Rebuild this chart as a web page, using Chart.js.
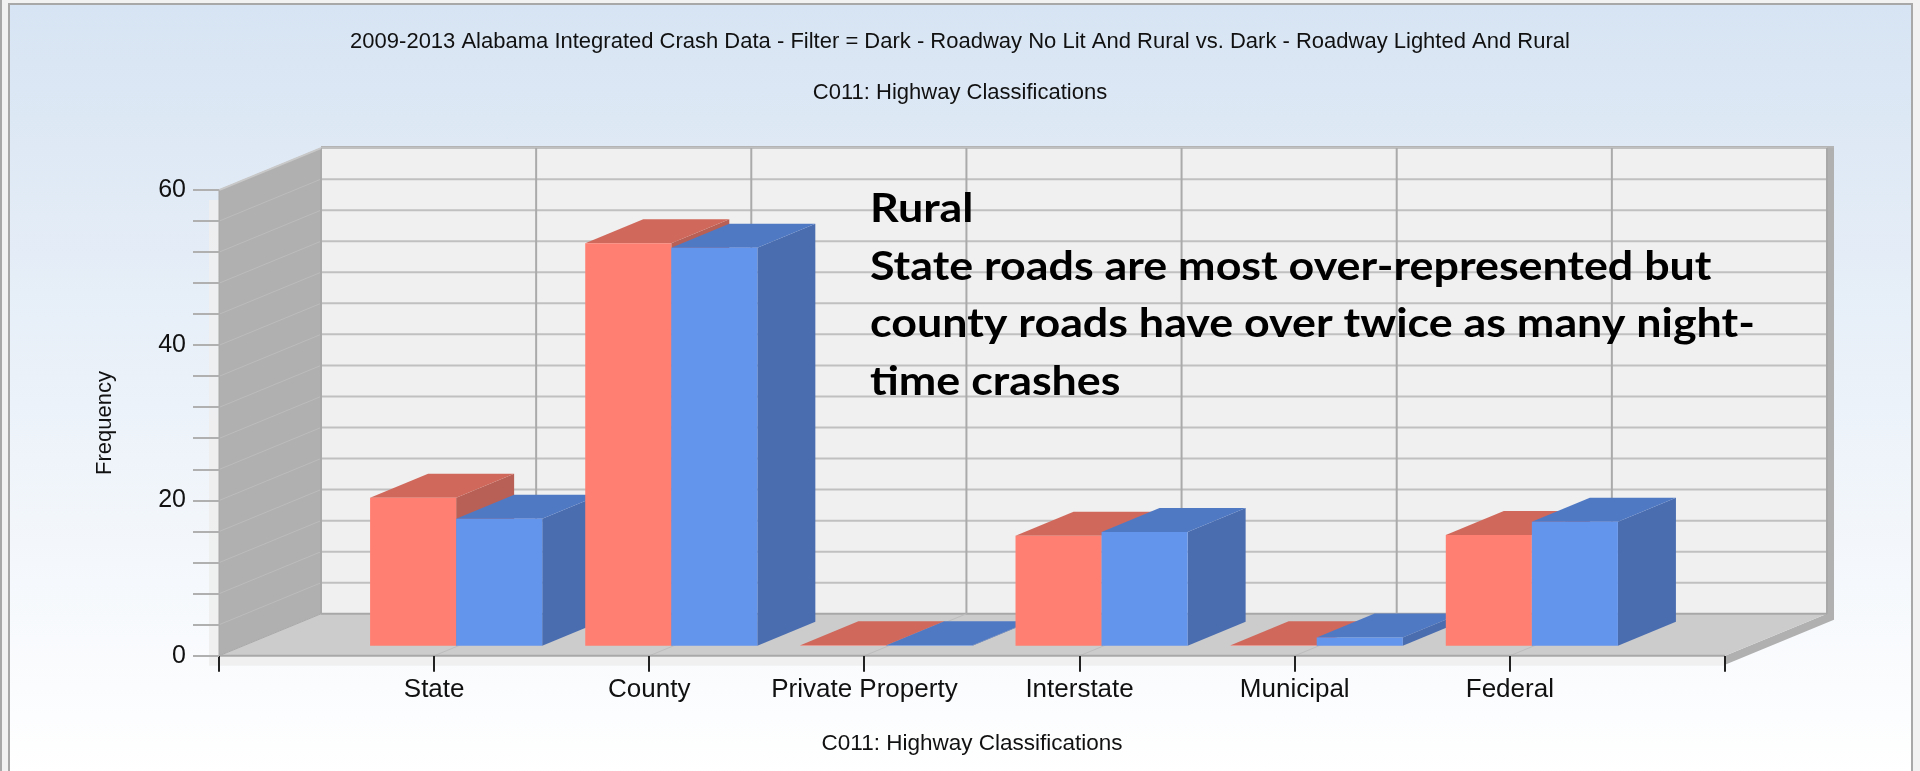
<!DOCTYPE html>
<html>
<head>
<meta charset="utf-8">
<script src="https://cdn.jsdelivr.net/npm/chart.js@4"></script>
<style>
  html, body { margin: 0; padding: 0; width: 1920px; height: 771px; overflow: hidden; }
  body { background: linear-gradient(to right, #a8a8a8 2px, #f2f2f2 2px); }
  #moldura {
    position: absolute; left: 8px; top: 3px; width: 1901px; height: 768px;
    border: 2px solid #a8a8a8; border-bottom: none;
    background: linear-gradient(#d7e4f3, #ffffff);
  }
  #grafico { position: absolute; left: 0; top: 0; }
</style>
</head>
<body>
<div id="moldura"></div>
<canvas id="grafico" width="1920" height="771"></canvas>
<script>
// categorias (as pontas ficam vazias, o eixo original tem um tick sem nome em cada lado)
const categorias = ["", "State", "County", "Private Property", "Interstate", "Municipal", "Federal", ""];
const semLuz = [null, 19.2, 52, 0.2, 14.3, 0.2, 14.4, null];
const comLuz = [null, 16.5, 51.4, 0.2, 14.8, 1.2, 16.1, null];
const rotulosY = [0, 20, 40, 60];

const titulo = [
  "2009-2013 Alabama Integrated Crash Data - Filter = Dark - Roadway No Lit And Rural vs. Dark - Roadway Lighted And Rural",
  "C011: Highway Classifications",
];
const tituloX = "C011: Highway Classifications";
const tituloY = "Frequency";
const nota = [
  "Rural",
  "State roads are most over-represented but",
  "county roads have over twice as many night-",
  "time crashes",
];

// deslocamentos da falsa perspectiva 3D
const FUNDO = { x: 102, y: -42 }; // plano frontal até a parede do fundo
const FRENTE = { x: 22, y: -9 }; // plano frontal até a face da barra
const PROF = { x: 58, y: -24 }; // profundidade da barra

function poligono(ctx, pontos, cor) {
  ctx.fillStyle = cor;
  ctx.beginPath();
  pontos.forEach((p, i) => (i ? ctx.lineTo(p[0], p[1]) : ctx.moveTo(p[0], p[1])));
  ctx.closePath();
  ctx.fill();
}

function linha(ctx, x1, y1, x2, y2, cor, largura) {
  ctx.strokeStyle = cor;
  ctx.lineWidth = largura;
  ctx.beginPath();
  ctx.moveTo(x1, y1);
  ctx.lineTo(x2, y2);
  ctx.stroke();
}

// Paredes, chão e grade, tudo a partir das escalas do gráfico
const paredes = {
  id: "paredes",
  // o título centraliza na tela inteira, não entre os paddings
  afterLayout(chart) {
    chart.titleBlock.left = 0;
    chart.titleBlock.right = chart.width;
  },
  beforeDraw(chart) {
    const { ctx, chartArea: a, scales } = chart;
    const esq = a.left, dir = a.right, topo = a.top, base = a.bottom;
    const fx = FUNDO.x, fy = FUNDO.y;
    ctx.save();

    // faixa clara em volta do plano frontal
    poligono(ctx, [[esq - 10, topo + 10], [esq, topo + 10], [esq, base + 10], [esq - 10, base + 10]], "rgba(238,238,238,0.9)");
    poligono(ctx, [[esq, base], [dir, base], [dir, base + 10], [esq, base + 10]], "rgba(238,238,238,0.9)");

    // espessura da parede direita e do chão
    poligono(ctx, [[dir + fx, topo + fy], [dir + fx + 7, topo + fy], [dir + fx + 7, base + fy + 6], [dir, base + 9], [dir, base], [dir + fx, base + fy]], "#b0b0b0");
    poligono(ctx, [[esq + fx, topo + fy - 2], [dir + fx + 7, topo + fy - 2], [dir + fx + 7, topo + fy], [esq + fx, topo + fy]], "#b4b4b4");

    // parede do fundo
    poligono(ctx, [[esq + fx, topo + fy], [dir + fx, topo + fy], [dir + fx, base + fy], [esq + fx, base + fy]], "#f0f0f0");
    // parede esquerda
    poligono(ctx, [[esq, topo], [esq + fx, topo + fy], [esq + fx, base + fy], [esq, base]], "#b0b0b0");
    // chão
    poligono(ctx, [[esq, base], [esq + fx, base + fy], [dir + fx, base + fy], [dir, base]], "#cccccc");

    // grade horizontal (a cada 4) no fundo e na parede esquerda
    scales.y.ticks.forEach((t, i) => {
      const y = scales.y.getPixelForTick(i);
      linha(ctx, esq + fx, y + fy, dir + fx, y + fy, t.value === 0 ? "#a8a8a8" : "#c0c0c0", 2);
      if (t.value !== 0) linha(ctx, esq, y, esq + fx, y + fy, "#bcbcbc", 1);
    });
    // grade vertical no fundo e riscos no chão
    scales.x.ticks.forEach((t, i) => {
      const x = scales.x.getPixelForTick(i);
      if (i < scales.x.ticks.length - 1) linha(ctx, x + fx, topo + fy, x + fx, base + fy, "#aaaaaa", 2);
      if (i > 0 && i < scales.x.ticks.length - 1) linha(ctx, x, base, x + fx, base + fy, "#bdbdbd", 1);
    });

    // bordas
    linha(ctx, dir + fx, topo + fy, dir + fx, base + fy, "#a8a8a8", 2);
    linha(ctx, esq, topo, esq + fx, topo + fy, "#c8c8c8", 2);
    linha(ctx, esq, base, esq + fx, base + fy, "#a8a8a8", 1);
    linha(ctx, esq, topo, esq, base, "#a8a8a8", 1);
    linha(ctx, esq, base, dir, base, "#a8a8a8", 2);
    ctx.restore();
  },
};

// Barras 3D: desenha por categoria, senão a lateral azul passa por cima da barra seguinte
const barras3d = {
  id: "barras3d",
  beforeDatasetsDraw(chart) {
    const ctx = chart.ctx;
    const cores = [
      { topo: "#d0695c", lado: "#b86055" },
      { topo: "#5079c4", lado: "#4a6db0" },
    ];
    ctx.save();
    ctx.translate(FRENTE.x, FRENTE.y);
    categorias.forEach((_, i) => {
      chart.data.datasets.forEach((ds, d) => {
        if (ds.data[i] === null) return;
        const el = chart.getDatasetMeta(d).data[i];
        const e = el.x - el.width / 2, r = el.x + el.width / 2;
        poligono(ctx, [[r, el.y], [r + PROF.x, el.y + PROF.y], [r + PROF.x, el.base + PROF.y], [r, el.base]], cores[d].lado);
        poligono(ctx, [[e, el.y], [e + PROF.x, el.y + PROF.y], [r + PROF.x, el.y + PROF.y], [r, el.y]], cores[d].topo);
        el.draw(ctx);
      });
    });
    ctx.restore();
    return false;
  },
};

// Texto em negrito que foi colado por cima do gráfico (a captura original está esticada na horizontal)
const anotacao = {
  id: "anotacao",
  afterDraw(chart) {
    const ctx = chart.ctx;
    ctx.save();
    ctx.font = "bold 40px Lato";
    ctx.fillStyle = "#000";
    ctx.textBaseline = "alphabetic";
    ctx.translate(870, 0);
    ctx.scale(1.12, 1);
    nota.forEach((txt, i) => ctx.fillText(txt, 0, 222 + i * 57.5));
    ctx.restore();
  },
};

new Chart(document.getElementById("grafico").getContext("2d"), {
  type: "bar",
  data: {
    labels: categorias,
    datasets: [
      { label: "Dark - Roadway No Lit And Rural", data: semLuz, backgroundColor: "#ff8072" },
      { label: "Dark - Roadway Lighted And Rural", data: comLuz, backgroundColor: "#6495ed" },
    ],
  },
  plugins: [paredes, barras3d, anotacao],
  options: {
    responsive: false,
    animation: false,
    events: [],
    categoryPercentage: 0.8,
    barPercentage: 1,
    layout: { padding: { left: 92, right: 195, top: 16, bottom: 14 } },
    plugins: {
      legend: { display: false },
      tooltip: { enabled: false },
      title: {
        display: true,
        text: titulo,
        color: "#111",
        font: { family: "Liberation Sans", size: 22, weight: "normal", lineHeight: 2.32 },
        padding: { top: 0, bottom: 72 },
      },
    },
    scales: {
      x: {
        offset: false,
        border: { display: false },
        grid: { offset: false, drawOnChartArea: false, drawTicks: true, tickLength: 16, tickColor: "#222", lineWidth: 2 },
        ticks: { autoSkip: false, maxRotation: 0, color: "#111", padding: 2, font: { family: "Liberation Sans", size: 26 } },
        title: { display: true, text: tituloX, color: "#111", padding: { top: 23, bottom: 0 }, font: { family: "Liberation Sans", size: 22.5 } },
      },
      y: {
        min: 0,
        max: 60,
        border: { display: false },
        grid: { drawOnChartArea: false, drawTicks: true, tickLength: 26, tickColor: "#b0b0b0", lineWidth: 2 },
        ticks: {
          stepSize: 4,
          autoSkip: false,
          color: "#111",
          padding: 7,
          font: { family: "Liberation Sans", size: 25 },
          callback: (v) => (rotulosY.includes(v) ? String(v) : ""),
        },
        title: { display: true, text: tituloY, color: "#111", padding: { top: 0, bottom: 0 }, font: { family: "Liberation Sans", size: 22 } },
        afterFit(axis) {
          axis.width = 127;
        },
      },
    },
  },
});
</script>
</body>
</html>
